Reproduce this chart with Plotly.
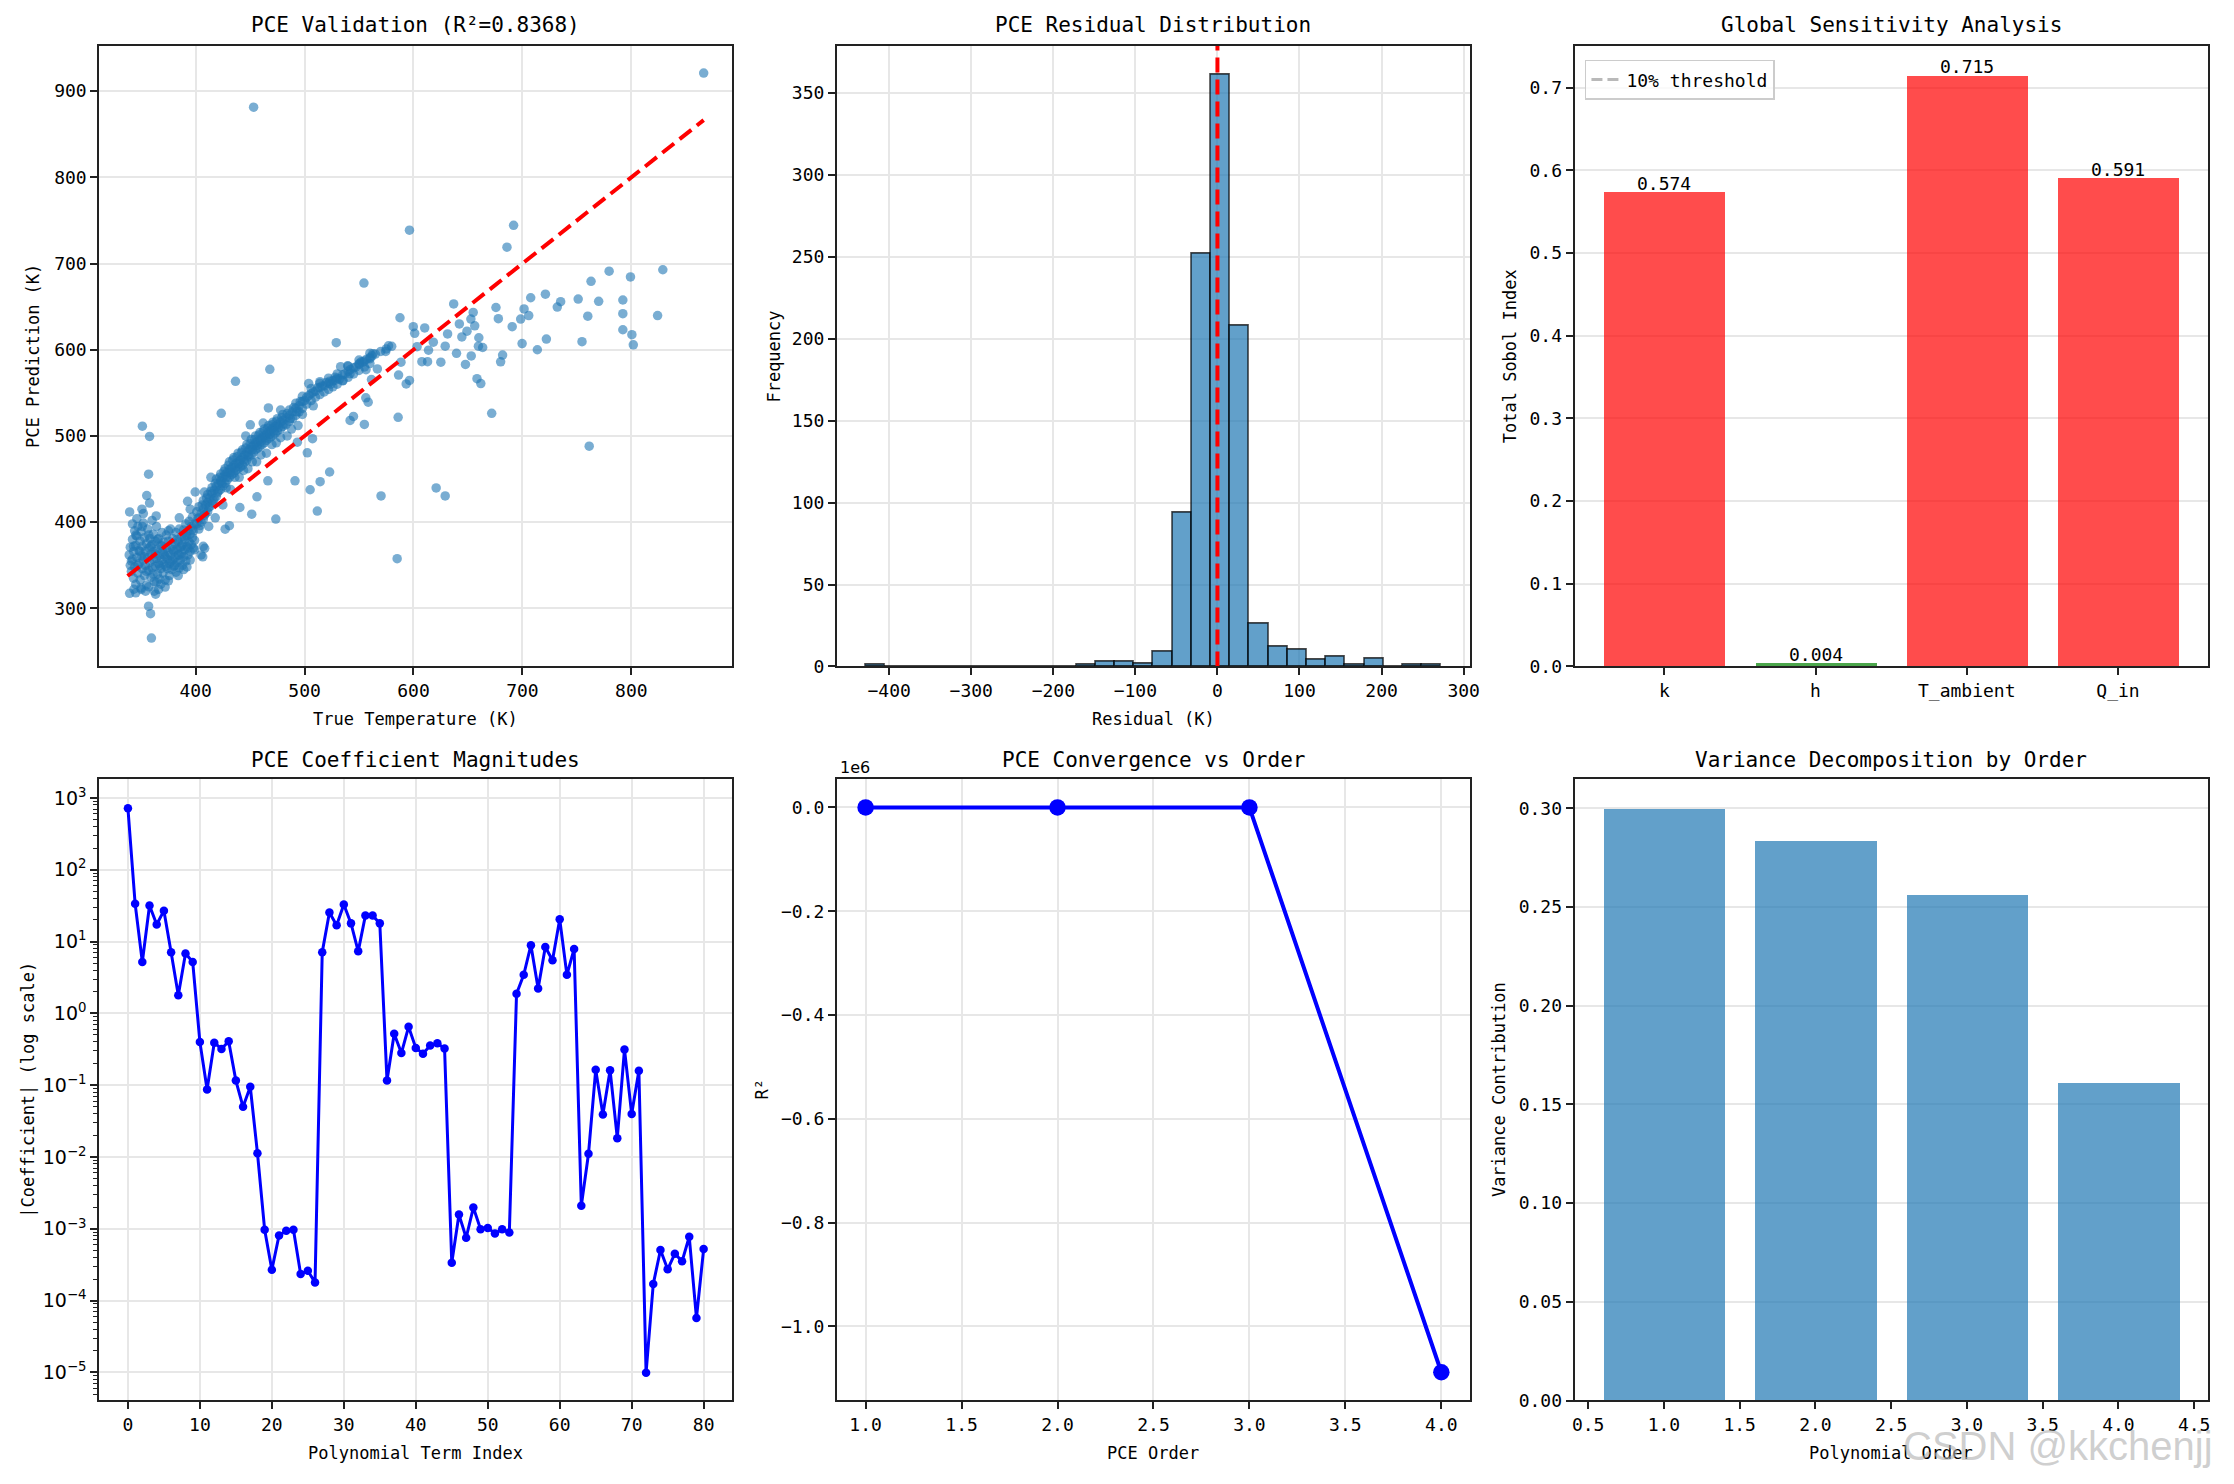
import plotly.graph_objects as go
import numpy as np

# ---------------- Panel 1: PCE validation scatter (true vs predicted, K) ----------------
cluster_points = [
    (339, 362), (340, 350), (340, 371), (341, 343), (342, 380), (342, 357), (343, 366), (343, 335), (344, 390), (344, 348),
    (345, 373), (345, 328), (346, 359), (346, 384), (347, 341), (347, 395), (348, 367), (348, 352), (349, 378), (349, 333),
    (350, 361), (350, 389), (351, 346), (351, 372), (352, 356), (352, 399), (353, 338), (353, 382), (354, 366), (354, 350),
    (355, 375), (355, 327), (356, 359), (356, 392), (357, 344), (357, 370), (358, 381), (358, 353), (359, 363), (359, 336),
    (360, 374), (360, 347), (361, 386), (361, 357), (362, 366), (362, 331), (363, 378), (363, 349), (364, 358), (364, 395),
    (365, 369), (365, 340), (366, 352), (366, 381), (367, 362), (367, 334), (368, 373), (368, 346), (369, 356), (369, 388),
    (370, 366), (370, 341), (371, 377), (371, 351), (372, 360), (372, 333), (373, 370), (373, 385), (374, 346), (374, 357),
    (375, 365), (375, 378), (376, 338), (376, 352), (377, 362), (377, 392), (378, 372), (378, 345), (379, 356), (379, 381),
    (380, 366), (380, 349), (381, 375), (381, 359), (382, 388), (382, 342), (383, 369), (383, 353), (384, 378), (384, 362),
    (385, 347), (385, 392), (386, 371), (386, 356), (387, 383), (387, 364), (388, 350), (388, 374), (389, 391), (389, 360),
    (390, 380), (390, 368), (391, 355), (391, 398), (392, 384), (392, 372), (393, 362), (393, 390), (394, 377), (394, 401),
    (395, 366), (395, 386), (396, 395), (396, 374), (397, 382), (397, 406), (398, 390), (398, 370), (399, 398), (399, 379),
    (345, 318), (350, 322), (357, 325), (362, 320), (368, 328), (375, 332), (384, 338), (392, 348), (405, 362), (407, 372),
    (341, 355), (343, 372), (345, 385), (347, 350), (349, 366), (351, 395), (353, 360), (355, 343), (357, 385), (359, 372),
    (361, 340), (363, 363), (365, 380), (367, 350), (369, 372), (371, 362), (373, 349), (375, 390), (377, 355), (379, 368),
    (381, 350), (383, 380), (385, 362), (387, 372), (389, 345), (391, 384), (393, 370), (395, 356), (397, 392), (399, 368),
    (346, 404), (352, 410), (360, 402), (342, 398), (354, 320), (366, 322),
]
band_points = [
    (401, 398), (401, 412), (403, 405), (403, 392), (403, 418), (405, 410), (405, 400), (407, 415), (407, 403), (407, 425),
    (409, 420), (409, 410), (411, 423), (411, 412), (411, 432), (413, 428), (413, 418), (415, 433), (415, 422), (415, 440),
    (417, 437), (417, 427), (419, 441), (419, 430), (419, 450), (421, 445), (421, 436), (423, 448), (423, 438), (423, 456),
    (425, 452), (425, 442), (427, 455), (427, 445), (427, 462), (429, 458), (429, 449), (431, 461), (431, 452), (431, 470),
    (433, 463), (433, 455), (435, 466), (435, 457), (435, 475), (437, 468), (437, 460), (439, 470), (439, 462), (439, 480),
    (441, 472), (441, 464), (443, 475), (443, 466), (443, 484), (445, 478), (445, 470), (447, 481), (447, 472), (447, 490),
    (449, 484), (449, 476), (451, 487), (451, 478), (451, 496), (453, 489), (453, 481), (455, 492), (455, 484), (455, 500),
    (457, 494), (457, 486), (459, 496), (459, 488), (459, 504), (461, 498), (461, 490), (463, 500), (463, 492), (463, 508),
    (465, 502), (465, 495), (467, 505), (467, 497), (467, 512), (469, 507), (469, 499), (471, 509), (471, 501), (471, 516),
    (473, 511), (473, 503), (475, 513), (475, 506), (475, 520), (478, 516), (478, 508), (480, 518), (480, 511), (480, 525),
    (483, 521), (483, 513), (486, 524), (486, 517), (486, 530), (489, 528), (489, 520), (492, 532), (492, 524), (492, 538),
    (495, 535), (495, 528), (498, 540), (498, 532), (498, 546), (502, 545), (502, 537), (506, 549), (506, 541), (506, 555),
    (510, 552), (510, 545), (514, 556), (514, 548), (514, 561), (518, 558), (518, 551), (522, 561), (522, 554), (522, 567),
    (526, 564), (526, 557), (530, 567), (530, 560), (530, 572), (535, 571), (535, 564), (540, 575), (540, 568), (540, 581),
    (545, 579), (545, 572), (550, 583), (550, 576), (550, 588), (555, 587), (555, 580), (560, 591), (560, 584), (560, 596),
    (565, 595), (570, 598), (575, 601), (580, 604), (412, 395), (418, 405), (425, 420), (432, 438), (440, 452), (448, 462),
    (456, 470), (465, 480), (474, 492), (484, 500), (494, 512),
]
band_fill_points = [
    (402, 404), (404, 396), (406, 420), (408, 408), (410, 428), (412, 417), (414, 436), (416, 425), (418, 445), (420, 434),
    (422, 452), (424, 445), (426, 459), (428, 452), (430, 466), (432, 458), (434, 472), (436, 463), (438, 476), (440, 468),
    (442, 481), (444, 472), (446, 486), (448, 478), (450, 491), (452, 484), (454, 496), (456, 489), (458, 501), (460, 494),
    (462, 505), (464, 498), (466, 509), (468, 502), (470, 513), (472, 506), (474, 517), (476, 510), (479, 521), (481, 514),
    (484, 526), (487, 520), (490, 533), (493, 528), (496, 540), (500, 541), (504, 547), (508, 551), (512, 556), (516, 558),
    (520, 562), (524, 560), (528, 568), (532, 566), (537, 572), (542, 577), (547, 580), (552, 586), (557, 589), (562, 593),
    (428, 440), (436, 452), (444, 460), (452, 470), (460, 478), (470, 490), (478, 498), (488, 508), (498, 525), (508, 535),
]
outlier_points = [
    (453.2, 881.4), (866.4, 921.0), (596.3, 738.7), (691.9, 744.3), (685.8, 719.0), (554.5, 677.3), (779.6, 691.2),
    (828.9, 692.8), (763.0, 679.4), (799.2, 684.5), (721.1, 664.4), (707.6, 660.3), (735.1, 655.7), (732.0, 649.5),
    (751.2, 658.8), (770.0, 656.2), (792.2, 657.7), (760.0, 639.0), (792.2, 641.8), (824.1, 639.7), (675.7, 649.0),
    (677.9, 636.0), (701.5, 647.4), (705.8, 639.7), (698.4, 635.6), (690.6, 626.8), (792.2, 623.2), (800.5, 617.5),
    (801.8, 605.7), (754.7, 609.3), (722.0, 612.4), (713.7, 600.0), (699.7, 607.2), (681.8, 593.8), (680.0, 586.0),
    (636.9, 653.1), (587.6, 637.1), (529.1, 608.2), (468.1, 577.3), (436.6, 563.4), (423.5, 526.3), (450.2, 512.9),
    (466.8, 532.5), (351.1, 511.3), (357.7, 499.5), (356.8, 455.7), (355.1, 430.9), (357.7, 422.2), (339.4, 411.9),
    (350.7, 415.0), (363.8, 407.2), (356.8, 302.6), (358.6, 293.8), (359.4, 265.5), (339.4, 317.5), (343.3, 322.2),
    (349.8, 323.7), (363.3, 316.5), (364.1, 330.4), (372.0, 324.7), (671.8, 526.3), (761.3, 488.1), (585.0, 357.7),
    (620.8, 439.7), (629.1, 430.4), (570.2, 430.4), (523.0, 458.2), (514.3, 446.9), (505.1, 437.6), (511.7, 412.9),
    (491.2, 447.9), (466.3, 447.9), (473.6, 403.6), (451.5, 409.3), (456.3, 429.4), (427.1, 391.8), (431.0, 395.9),
    (440.6, 417.0), (406.5, 359.8), (408.3, 369.6), (399.6, 435.0), (392.6, 424.2), (502.5, 480.4), (507.3, 496.9),
    (493.4, 492.8), (541.8, 518.0), (544.9, 522.7), (554.9, 513.4), (558.4, 539.2), (556.2, 544.3), (585.9, 521.6),
    (586.3, 570.6), (593.3, 560.3), (596.3, 564.4), (561.4, 565.5), (588.5, 585.6), (612.9, 586.1), (625.1, 585.6),
    (639.5, 595.9), (647.7, 583.0), (653.0, 592.8), (658.3, 566.5), (661.8, 560.8), (663.5, 602.6), (660.0, 613.9),
    (607.7, 586.1), (613.8, 599.5), (599.8, 626.8), (601.1, 619.1), (610.3, 625.3), (603.3, 603.6), (618.2, 608.8),
    (629.1, 604.1), (631.3, 618.3), (644.4, 614.9), (652.7, 635.6), (654.8, 643.3), (649.1, 621.6), (656.2, 627.8),
    (642.1, 629.9), (659.6, 604.1), (577.1, 604.6), (574.5, 598.0), (562.7, 595.4), (560.1, 589.7), (553.6, 585.6),
    (550.1, 584.0), (566.8, 577.8), (556.4, 576.8), (541.8, 572.2), (533.1, 580.4), (539.6, 581.4), (523.0, 563.4),
    (528.8, 565.0), (535.3, 564.4), (514.1, 562.9), (503.8, 560.8),
    (408.0, 435.0), (414.0, 452.0), (446.0, 500.0), (462.0, 515.0), (478.0, 530.0), (395.0, 415.0), (385.0, 405.0),
]
validation_r2 = 0.8368
ideal_line = [337.5, 866.4]

# ---------------- Panel 2: residual histogram ----------------
residual_min = -429.0
residual_max = 272.7
residual_counts = [1, 0, 0, 0, 0, 0, 0, 0, 0, 0, 0, 1, 3, 3, 2, 9, 94, 252, 361, 208,
                   26, 12, 10, 4, 6, 1, 5, 0, 1, 1]

# ---------------- Panel 3: Sobol indices ----------------
param_names = ["k", "h", "T_ambient", "Q_in"]
sobol_total = [0.574, 0.004, 0.715, 0.591]
sobol_threshold = 0.1

# ---------------- Panel 4: PCE coefficient magnitudes ----------------
coef_magnitudes = [
    716, 33.7, 5.18, 31.8, 17.3, 26.9, 7.1, 1.79, 6.8, 5.2,
    0.40, 0.087, 0.39, 0.32, 0.41, 0.116, 0.050, 0.095, 0.0113, 0.00097,
    0.00027, 0.00081, 0.00094, 0.00097, 0.000235, 0.000261, 0.000179, 7.1, 25.3, 16.8,
    32.7, 17.9, 7.3, 23.1, 23.1, 17.9, 0.116, 0.52, 0.28, 0.65,
    0.33, 0.275, 0.356, 0.383, 0.325, 0.000337, 0.00158, 0.000752, 0.00198, 0.00099,
    0.00103, 0.00086, 0.00099, 0.00089, 1.87, 3.44, 8.9, 2.22, 8.4, 5.5,
    20.5, 3.44, 7.9, 0.0021, 0.0111, 0.164, 0.039, 0.162, 0.0183, 0.315,
    0.0396, 0.159, 0.0000099, 0.000171, 0.000508, 0.000273, 0.00045, 0.000353, 0.000775, 0.0000574,
    0.000523,
]
log_decades = [-5, -4, -3, -2, -1, 0, 1, 2, 3]

# ---------------- Panel 5: convergence ----------------
pce_orders = [1, 2, 3, 4]
r2_by_order = [0.712, 0.801, 0.8368, -1.0886e6]
r2_ticks = [0.0, -0.2, -0.4, -0.6, -0.8, -1.0]

# ---------------- Panel 6: variance decomposition ----------------
variance_orders = [1, 2, 3, 4]
variance_contrib = [0.2998, 0.2833, 0.2562, 0.1610]

# ======================================================================
W, H = 2234, 1484
FONT = "DejaVu Sans Mono"
SPINE = "#222222"
GRID = "#e7e7e7"
TICK = 18


def pxx(px):
    return px / W


def pxy(py):
    return 1 - py / H


cols = [(96.7, 733.7), (838.7, 1475.7), (1580.7, 2217.7)]
rows = [(46.0, 671.0), (784.5, 1410.0)]
col_dom = [[pxx(a), pxx(b)] for a, b in cols]
row_dom = [[pxy(b), pxy(a)] for a, b in rows]

fig = go.Figure()

# Panel 1
pts = cluster_points + band_points + band_fill_points + outlier_points
true_temp = [p[0] for p in pts]
pce_pred = [p[1] for p in pts]
fig.add_trace(go.Scatter(x=true_temp, y=pce_pred, mode="markers", xaxis="x", yaxis="y",
                         marker=dict(size=9.5, color="rgba(31,119,180,0.6)", line=dict(width=0)),
                         showlegend=False))
fig.add_trace(go.Scatter(x=ideal_line, y=ideal_line, mode="lines", xaxis="x", yaxis="y",
                         line=dict(color="#ff0000", width=4, dash="15px,7px"), showlegend=False))

# Panel 2
edges = np.linspace(residual_min, residual_max, len(residual_counts) + 1)
bw = edges[1] - edges[0]
centers = edges[:-1] + bw / 2
fig.add_trace(go.Bar(x=centers, y=residual_counts, width=bw, xaxis="x2", yaxis="y2",
                     marker=dict(color="rgba(31,119,180,0.7)", line=dict(color="rgba(0,0,0,0.72)", width=1.6)),
                     showlegend=False))
fig.add_trace(go.Scatter(x=[0, 0], y=[0, 378.7], mode="lines", xaxis="x2", yaxis="y2",
                         line=dict(color="#ff0000", width=4, dash="15px,7px"), showlegend=False))

# Panel 3
bar_colors = ["rgba(255,0,0,0.7)" if v > sobol_threshold else "rgba(0,128,0,0.7)" for v in sobol_total]
fig.add_trace(go.Bar(x=param_names, y=sobol_total, width=0.8, xaxis="x3", yaxis="y3",
                     marker=dict(color=bar_colors, line=dict(width=0)), showlegend=False))
fig.add_trace(go.Scatter(x=[-0.6, 3.6], y=[sobol_threshold, sobol_threshold], mode="lines",
                         xaxis="x3", yaxis="y3", name="10% threshold",
                         line=dict(color="rgba(128,128,128,0.55)", width=3, dash="11px,5px"),
                         showlegend=True))

# Panel 4
fig.add_trace(go.Scatter(x=list(range(len(coef_magnitudes))), y=coef_magnitudes, mode="lines+markers",
                         xaxis="x4", yaxis="y4", line=dict(color="#0000ff", width=3),
                         marker=dict(size=8.5, color="#0000ff"), showlegend=False))

# Panel 5
fig.add_trace(go.Scatter(x=pce_orders, y=r2_by_order, mode="lines+markers", xaxis="x5", yaxis="y5",
                         line=dict(color="#0000ff", width=4), marker=dict(size=16.5, color="#0000ff"),
                         showlegend=False))

# Panel 6
fig.add_trace(go.Bar(x=variance_orders, y=variance_contrib, width=0.8, xaxis="x6", yaxis="y6",
                     marker=dict(color="rgba(31,119,180,0.7)", line=dict(width=0)), showlegend=False))


def axis(domain, rng, anchor, grid=True, **kw):
    d = dict(domain=domain, range=rng, anchor=anchor, showline=True, mirror=True,
             linecolor=SPINE, linewidth=1.7, ticks="outside", ticklen=7, tickwidth=1.7,
             tickcolor=SPINE, showgrid=grid, gridcolor=GRID, gridwidth=1.6, zeroline=False,
             tickfont=dict(family=FONT, size=TICK, color="black"))
    d.update(kw)
    return d


major_log = [10.0 ** e for e in log_decades]
major_log_text = [("10<sup>" + ("\u2212" if e < 0 else "") + f"{abs(e)}</sup>") for e in log_decades]
minor_log = [k * 10.0 ** e for e in range(-6, 4) for k in range(2, 10)
             if -5.39 < np.log10(k * 10.0 ** e) < 3.26]

ymax5 = 0.05 * 1.0886e6
layout = dict(
    width=W, height=H, margin=dict(l=0, r=0, t=0, b=0),
    paper_bgcolor="white", plot_bgcolor="white",
    font=dict(family=FONT, size=17, color="black"),
    bargap=0,
    showlegend=True,
    legend=dict(x=pxx(1591), y=pxy(60), xanchor="left", yanchor="top",
                bgcolor="rgba(255,255,255,0.8)", bordercolor="#cccccc", borderwidth=1.7,
                font=dict(family=FONT, size=18, color="black")),
    xaxis=axis(col_dom[0], [311.4, 892.8], "y", dtick=100),
    yaxis=axis(row_dom[0], [232.6, 952.7], "x", dtick=100),
    xaxis2=axis(col_dom[1], [-463.8, 307.9], "y2", dtick=100),
    yaxis2=axis(row_dom[0], [0, 378.7], "x2", dtick=50),
    xaxis3=axis(col_dom[2], [-0.594, 3.594], "y3", grid=False, type="category"),
    yaxis3=axis(row_dom[0], [0, 0.7508], "x3", dtick=0.1, tickformat=".1f"),
    xaxis4=axis(col_dom[0], [-4, 84], "y4", dtick=10),
    yaxis4=axis(row_dom[1], [-5.39, 3.26], "x4", type="log", tickvals=major_log, ticktext=major_log_text,
                tickfont=dict(family="DejaVu Sans", size=19, color="black"),
                minor=dict(ticks="outside", ticklen=4, tickwidth=1.2, tickcolor=SPINE,
                           tickvals=minor_log, showgrid=False)),
    xaxis5=axis(col_dom[1], [0.85, 4.15], "y5", dtick=0.5, tick0=0, tickformat=".1f"),
    yaxis5=axis(row_dom[1], [-1.0886e6 - ymax5, ymax5], "x5",
                tickvals=[t * 1e6 for t in r2_ticks],
                ticktext=[("\u2212" if t < 0 else "") + f"{abs(t):.1f}" for t in r2_ticks]),
    xaxis6=axis(col_dom[2], [0.41, 4.59], "y6", grid=False, dtick=0.5, tick0=0, tickformat=".1f"),
    yaxis6=axis(row_dom[1], [0, 0.31479], "x6", dtick=0.05, tickformat=".2f"),
)
fig.update_layout(**layout)

annotations = []
titles = [f"PCE Validation (R²={validation_r2:.4f})", "PCE Residual Distribution", "Global Sensitivity Analysis",
          "PCE Coefficient Magnitudes", "PCE Convergence vs Order", "Variance Decomposition by Order"]
title_y = [25.4, 764.8]
for i, t in enumerate(titles):
    r, c = divmod(i, 3)
    annotations.append(dict(text=t, x=pxx(sum(cols[c]) / 2), y=pxy(title_y[r]), xref="paper", yref="paper",
                            xanchor="center", yanchor="middle", showarrow=False,
                            font=dict(family=FONT, size=21, color="black")))

xlabels = [("True Temperature (K)", 0, 0), ("Residual (K)", 0, 1),
           ("Polynomial Term Index", 1, 0), ("PCE Order", 1, 1), ("Polynomial Order", 1, 2)]
xlabel_y = [724, 1463]
for t, r, c in xlabels:
    annotations.append(dict(text=t, x=pxx(sum(cols[c]) / 2), y=pxy(xlabel_y[r]), xref="paper", yref="paper",
                            xanchor="center", yanchor="middle", showarrow=False,
                            font=dict(family=FONT, size=17, color="black")))

ylabels = [("PCE Prediction (K)", 0, 30), ("Frequency", 0, 776), ("Total Sobol Index", 0, 1516),
           ("|Coefficient| (log scale)", 1, 25), ("R²", 1, 763), ("Variance Contribution", 1, 1505)]
for t, r, x in ylabels:
    annotations.append(dict(text=t, x=pxx(x), y=pxy(sum(rows[r]) / 2), xref="paper", yref="paper",
                            xanchor="center", yanchor="middle", showarrow=False, textangle=-90,
                            font=dict(family=FONT, size=17, color="black")))

# value labels on Sobol bars
for name, v in zip(param_names, sobol_total):
    annotations.append(dict(text=f"{v:.3f}", x=name, y=v, xref="x3", yref="y3", xanchor="center",
                            yanchor="bottom", yshift=-4, showarrow=False,
                            font=dict(family=FONT, size=18, color="black")))

# offset text for panel 5
annotations.append(dict(text="1e6", x=pxx(840), y=pxy(rows[1][0]), xref="paper", yref="paper",
                        xanchor="left", yanchor="bottom", yshift=0, showarrow=False,
                        font=dict(family="DejaVu Sans", size=16, color="black")))

# watermark
annotations.append(dict(text="CSDN @kkchenjj", x=pxx(2067), y=pxy(1456), xref="paper", yref="paper",
                        xanchor="center", yanchor="middle", showarrow=False,
                        font=dict(family="Liberation Sans", size=40, color="rgba(175,175,175,0.6)")))

fig.update_layout(annotations=annotations)
fig.write_html("out.html")
